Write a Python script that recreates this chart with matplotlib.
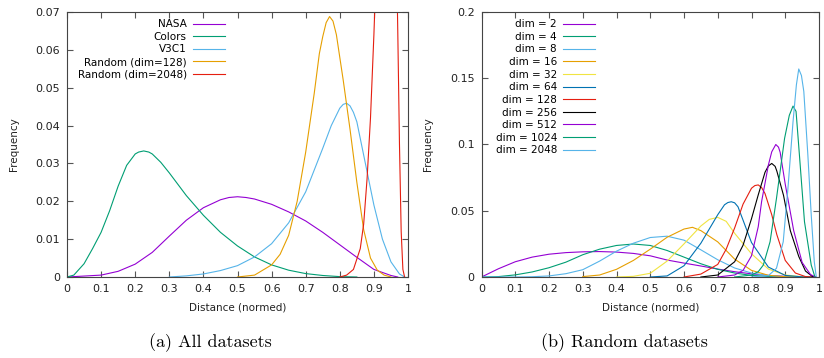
import matplotlib
matplotlib.use("Agg")
from matplotlib import pyplot as plt
from matplotlib.ticker import FormatStrFormatter, MultipleLocator

# gnuplot default palette
colors = ["#9400d3", "#009e73", "#56b4e9", "#e69f00", "#f0e442",
          "#0072b2", "#e51e10", "#000000"]

# ---- (a) all datasets: values ----
nasa_x = [0.0, 0.1, 0.15, 0.2, 0.25, 0.3, 0.35, 0.4, 0.45, 0.475, 0.5, 0.525,
          0.55, 0.6, 0.65, 0.7, 0.75, 0.8, 0.85, 0.9, 0.95, 0.97]
nasa_y = [0.0, 0.0005, 0.0015, 0.0034, 0.0065, 0.0108, 0.0150, 0.0183,
          0.0204, 0.0210, 0.0212, 0.0210, 0.0206, 0.0192, 0.0172, 0.0148,
          0.0118, 0.0085, 0.0052, 0.0020, 0.0004, 0.0]

colors_x = [0.0, 0.02, 0.05, 0.075, 0.1, 0.125, 0.15, 0.175, 0.2, 0.21, 0.225,
            0.24, 0.25, 0.275, 0.3, 0.325, 0.35, 0.4, 0.45, 0.5, 0.55, 0.6,
            0.65, 0.7, 0.75, 0.8, 0.85]
colors_y = [0.0, 0.0005, 0.0035, 0.0075, 0.0118, 0.0175, 0.0240, 0.0295,
            0.0325, 0.0330, 0.0333, 0.0330, 0.0325, 0.0303, 0.0275, 0.0245,
            0.0215, 0.0163, 0.0118, 0.0082, 0.0053, 0.0032, 0.0018, 0.0009,
            0.0004, 0.0001, 0.0]

v3c1_x = [0.3, 0.35, 0.4, 0.45, 0.5, 0.55, 0.6, 0.65, 0.7, 0.75, 0.775, 0.8,
          0.81, 0.82, 0.83, 0.84, 0.85, 0.875, 0.9, 0.925, 0.95, 0.975, 0.99]
v3c1_y = [0.0, 0.0003, 0.0008, 0.0017, 0.0030, 0.0053, 0.0088, 0.0143,
          0.0225, 0.0340, 0.0400, 0.0446, 0.0456, 0.0459, 0.0452, 0.0435,
          0.0410, 0.0300, 0.0190, 0.0100, 0.0040, 0.0008, 0.0]

r128_x = [0.5, 0.55, 0.6, 0.625, 0.65, 0.675, 0.7, 0.725, 0.74, 0.75, 0.76,
          0.77, 0.78, 0.79, 0.81, 0.83, 0.85, 0.87, 0.89, 0.91, 0.93, 0.95]
r128_y = [0.0, 0.0005, 0.0032, 0.0060, 0.0110, 0.0200, 0.0330, 0.0485,
          0.0590, 0.0635, 0.0672, 0.0688, 0.0676, 0.0640, 0.0520, 0.0390,
          0.0250, 0.0125, 0.0050, 0.0018, 0.0005, 0.0]

r2048_x = [0.8, 0.82, 0.84, 0.86, 0.87, 0.88, 0.89, 0.9, 0.91, 0.92, 0.94,
           0.96, 0.97, 0.975, 0.98, 0.985, 0.99]
r2048_y = [0.0, 0.0005, 0.0020, 0.0075, 0.0140, 0.0260, 0.0420, 0.0640,
           0.0900, 0.1200, 0.1700, 0.1200, 0.0650, 0.0350, 0.0120, 0.0020, 0.0]

left_labels = ["NASA", "Colors", "V3C1", "Random (dim=128)", "Random (dim=2048)"]
left_series = [(nasa_x, nasa_y), (colors_x, colors_y), (v3c1_x, v3c1_y),
               (r128_x, r128_y), (r2048_x, r2048_y)]
left_colors = [colors[0], colors[1], colors[2], colors[3], colors[6]]

# ---- (b) random datasets ----
grid = [0.0, 0.05, 0.1, 0.15, 0.2, 0.25, 0.3, 0.35, 0.4, 0.45, 0.5, 0.55,
        0.6, 0.65, 0.7, 0.75, 0.8, 0.85, 0.9, 0.95, 0.98]
dim2_y = [0.0, 0.0062, 0.0115, 0.0150, 0.0172, 0.0184, 0.0190, 0.0192,
          0.0188, 0.0178, 0.0160, 0.0128, 0.0105, 0.0083, 0.0060, 0.0040,
          0.0024, 0.0012, 0.0005, 0.0001, 0.0]
dim4_y = [0.0, 0.0003, 0.0016, 0.0038, 0.0070, 0.0112, 0.0168, 0.0210,
          0.0238, 0.0249, 0.0238, 0.0200, 0.0150, 0.0100, 0.0058, 0.0030,
          0.0012, 0.0004, 0.0001, 0.0, 0.0]
dim8_y = [0.0, 0.0, 0.0, 0.0002, 0.0008, 0.0025, 0.0055, 0.0120, 0.0195,
          0.0255, 0.0298, 0.0308, 0.0278, 0.0205, 0.0130, 0.0068, 0.0030,
          0.0010, 0.0003, 0.0, 0.0]

dim16_x = [0.3, 0.35, 0.4, 0.45, 0.5, 0.55, 0.6, 0.625, 0.65, 0.7, 0.75, 0.8,
           0.85, 0.9, 0.95]
dim16_y = [0.0003, 0.0015, 0.0058, 0.0125, 0.0210, 0.0300, 0.0362, 0.0375,
           0.0350, 0.0265, 0.0135, 0.0050, 0.0013, 0.0002, 0.0]

dim32_x = [0.4, 0.45, 0.5, 0.55, 0.6, 0.65, 0.675, 0.7, 0.725, 0.75, 0.8,
           0.85, 0.9, 0.95, 0.98]
dim32_y = [0.0, 0.0005, 0.0028, 0.0120, 0.0250, 0.0385, 0.0435, 0.0450,
           0.0420, 0.0330, 0.0175, 0.0060, 0.0015, 0.0002, 0.0]

dim64_x = [0.5, 0.55, 0.6, 0.65, 0.7, 0.72, 0.73, 0.74, 0.75, 0.76, 0.8,
           0.85, 0.9, 0.95, 0.98]
dim64_y = [0.0, 0.0008, 0.0085, 0.0255, 0.0470, 0.0545, 0.0562, 0.0568,
           0.0560, 0.0530, 0.0260, 0.0075, 0.0012, 0.0001, 0.0]

dim128_x = [0.6, 0.65, 0.7, 0.725, 0.75, 0.775, 0.8, 0.81, 0.82, 0.83, 0.84,
            0.86, 0.875, 0.9, 0.93, 0.96, 0.98]
dim128_y = [0.0, 0.0022, 0.0095, 0.0210, 0.0370, 0.0550, 0.0670, 0.0690,
            0.0695, 0.0675, 0.0630, 0.0470, 0.0320, 0.0125, 0.0030, 0.0003, 0.0]

dim256_x = [0.65, 0.7, 0.75, 0.775, 0.8, 0.82, 0.84, 0.85, 0.86, 0.87, 0.875,
            0.895, 0.915, 0.94, 0.96, 0.98, 0.99]
dim256_y = [0.0, 0.0015, 0.0115, 0.0240, 0.0440, 0.0620, 0.0790, 0.0838,
            0.0857, 0.0835, 0.0800, 0.0615, 0.0350, 0.0155, 0.0045, 0.0005, 0.0]

dim512_x = [0.7, 0.75, 0.775, 0.8, 0.82, 0.83, 0.85, 0.86, 0.872, 0.88,
            0.885, 0.9, 0.925, 0.95, 0.975, 0.99]
dim512_y = [0.0, 0.0015, 0.0050, 0.0160, 0.0380, 0.0570, 0.0845, 0.0945,
            0.1000, 0.0980, 0.0940, 0.0700, 0.0350, 0.0110, 0.0018, 0.0]

dim1024_x = [0.75, 0.8, 0.82, 0.835, 0.855, 0.874, 0.898, 0.912, 0.923,
             0.932, 0.942, 0.957, 0.977, 0.988]
dim1024_y = [0.0, 0.0015, 0.0040, 0.0090, 0.0266, 0.0593, 0.1046, 0.1220,
             0.1290, 0.1250, 0.0920, 0.0417, 0.0090, 0.0]

dim2048_x = [0.8, 0.85, 0.874, 0.894, 0.908, 0.923, 0.933, 0.94, 0.948,
             0.955, 0.967, 0.977, 0.986, 0.992]
dim2048_y = [0.0, 0.0010, 0.0066, 0.0266, 0.0669, 0.1170, 0.1450, 0.1570,
             0.1520, 0.1400, 0.0920, 0.0468, 0.0115, 0.0]

dims = [2, 4, 8, 16, 32, 64, 128, 256, 512, 1024, 2048]
right_series = [(grid, dim2_y), (grid, dim4_y), (grid, dim8_y),
                (dim16_x, dim16_y), (dim32_x, dim32_y), (dim64_x, dim64_y),
                (dim128_x, dim128_y), (dim256_x, dim256_y),
                (dim512_x, dim512_y), (dim1024_x, dim1024_y),
                (dim2048_x, dim2048_y)]

plt.rcParams["font.family"] = ["DejaVu Sans"]
fig = plt.figure(figsize=(8.24, 3.58), dpi=100)
ax1 = fig.add_axes([67 / 824, 1 - 277 / 358, 341 / 824, 265 / 358])
ax2 = fig.add_axes([481.5 / 824, 1 - 277 / 358, 337.5 / 824, 265 / 358])


def style(ax, ymax, ystep):
    ax.set_xlim(0, 1)
    ax.set_ylim(0, ymax)
    ax.xaxis.set_major_locator(MultipleLocator(0.1))
    ax.yaxis.set_major_locator(MultipleLocator(ystep))
    ax.xaxis.set_major_formatter(FormatStrFormatter("%g"))
    ax.yaxis.set_major_formatter(FormatStrFormatter("%g"))
    ax.tick_params(direction="in", top=True, right=True, length=4,
                   width=0.8, color="#555555", labelsize=8, pad=5,
                   labelcolor="#222222")
    for s in ax.spines.values():
        s.set_color("#444444")
        s.set_linewidth(0.8)
    ax.set_xlabel("Distance (normed)", fontsize=7.5, color="#222222", labelpad=6)
    ax.set_ylabel("Frequency", fontsize=7.5, color="#222222")


for (x, y), lab, c in zip(left_series, left_labels, left_colors):
    ax1.plot(x, y, color=c, lw=0.8, label=lab)
style(ax1, 0.07, 0.01)
ax1.yaxis.labelpad = 12
leg1 = ax1.legend(loc="upper left", bbox_to_anchor=(0.01, 1.0), frameon=False,
                  markerfirst=False, fontsize=7.5, handlelength=3.1,
                  handletextpad=0.6, labelspacing=0.25, borderaxespad=0.3)

for i, ((x, y), d) in enumerate(zip(right_series, dims)):
    ax2.plot(x, y, color=colors[i % 8], lw=0.8, label="dim = %d" % d)
style(ax2, 0.2, 0.05)
ax2.yaxis.labelpad = 12
leg2 = ax2.legend(loc="upper left", bbox_to_anchor=(0.02, 1.0), frameon=False,
                  markerfirst=False, fontsize=7.5, handlelength=3.1,
                  handletextpad=0.6, labelspacing=0.25, borderaxespad=0.3)

fig.text(210 / 824, 1 - 343 / 358, "(a) All datasets", family="cmr10",
         fontsize=13, ha="center", va="center")
fig.text(624 / 824, 1 - 343 / 358, "(b) Random datasets", family="cmr10",
         fontsize=13, ha="center", va="center")

fig.savefig("out.png", dpi=100)
